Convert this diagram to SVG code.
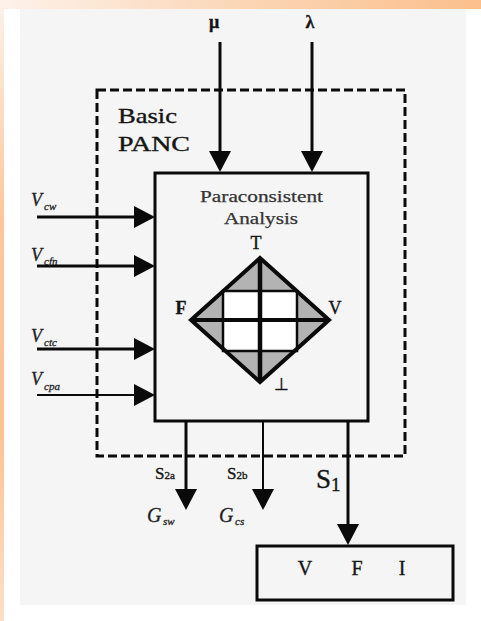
<svg xmlns="http://www.w3.org/2000/svg" width="481" height="621" viewBox="0 0 481 621">
<defs>
<linearGradient id="gTop" x1="0" y1="0" x2="1" y2="0">
<stop offset="0" stop-color="#fdf2ea"/>
<stop offset="0.5" stop-color="#fbd6b6"/>
<stop offset="1" stop-color="#fbbf8c"/>
</linearGradient>
<linearGradient id="gLeft" x1="0" y1="0" x2="0" y2="1">
<stop offset="0" stop-color="#fdf2ea"/>
<stop offset="0.35" stop-color="#fcc79a"/>
<stop offset="0.7" stop-color="#fcc395"/>
<stop offset="1" stop-color="#fde0c8"/>
</linearGradient>
<marker id="ah" viewBox="0 0 21 22" markerWidth="21" markerHeight="22" refX="13" refY="11" markerUnits="userSpaceOnUse" orient="auto">
<path d="M0,0 L21,11 L0,22 Z" fill="#0a0a0a"/>
</marker>
<style>
.t{font-family:"Liberation Serif","Times New Roman",serif;fill:#151515;stroke:#151515;stroke-width:0.35}
.it{font-family:"Liberation Serif","Times New Roman",serif;font-style:italic;fill:#222;stroke:#222;stroke-width:0.3}
.w{stroke:#0a0a0a;fill:none;stroke-width:3}
.thin{stroke:#0a0a0a;fill:none;stroke-width:2}
.box{fill:#f5f5f5;stroke:#0a0a0a;stroke-width:3}
</style>
</defs>
<rect x="0" y="0" width="481" height="621" fill="#ffffff"/>
<rect x="0" y="0" width="481" height="9" fill="url(#gTop)"/>
<rect x="0" y="0" width="4" height="621" fill="url(#gLeft)"/>
<rect x="20" y="9" width="446" height="596" fill="#f5f5f5"/>

<g id="basic-panc">
<rect x="97" y="90" width="308" height="366" fill="none" stroke="#0a0a0a" stroke-width="3" stroke-dasharray="9,4"/>
<text class="t" x="118" y="123" font-size="21" textLength="59" lengthAdjust="spacingAndGlyphs">Basic</text>
<text class="t" x="118" y="151" font-size="21" textLength="72" lengthAdjust="spacingAndGlyphs">PANC</text>
</g>

<g id="paraconsistent-analysis">
<rect class="box" x="155" y="173" width="213" height="248"/>
<text class="t" x="200" y="202" font-size="17" textLength="123" lengthAdjust="spacingAndGlyphs" style="fill:#333;stroke:#333;stroke-width:0.25">Paraconsistent</text>
<text class="t" x="224" y="224" font-size="17" textLength="74" lengthAdjust="spacingAndGlyphs" style="fill:#333;stroke:#333;stroke-width:0.25">Analysis</text>
<polygon points="260,258 329,320 260,382 191,320" fill="#b3b3b3"/>
<rect x="223" y="291" width="74" height="60" fill="#ffffff" stroke="#0a0a0a" stroke-width="2.5"/>
<line x1="260" y1="258" x2="260" y2="382" stroke="#0a0a0a" stroke-width="4.5"/>
<line x1="191" y1="320" x2="329" y2="320" stroke="#0a0a0a" stroke-width="4"/>
<polygon points="260,258 329,320 260,382 191,320" fill="none" stroke="#0a0a0a" stroke-width="4"/>
<text class="t" x="256" y="249" font-size="18" text-anchor="middle">T</text>
<text class="t" x="181" y="314" font-size="18" text-anchor="middle" font-weight="bold">F</text>
<text class="t" x="335" y="314" font-size="18" text-anchor="middle">V</text>
<text class="t" x="281" y="390" font-size="17" text-anchor="middle">⊥</text>
</g>

<g id="vfi">
<rect x="257" y="546" width="196" height="54" fill="#f5f5f5" stroke="#0a0a0a" stroke-width="3"/>
<text class="t" x="305" y="575" font-size="20" text-anchor="middle">V</text>
<text class="t" x="357" y="575" font-size="20" text-anchor="middle">F</text>
<text class="t" x="402" y="575" font-size="20" text-anchor="middle">I</text>
</g>

<g id="connectors">
<line class="w" x1="220" y1="42" x2="220" y2="164" marker-end="url(#ah)"/>
<line class="w" x1="312" y1="42" x2="312" y2="164" marker-end="url(#ah)"/>
<line class="w" x1="37" y1="217" x2="147" y2="217" marker-end="url(#ah)"/>
<line class="w" x1="37" y1="266" x2="147" y2="266" marker-end="url(#ah)"/>
<line class="w" x1="37" y1="349" x2="147" y2="349" marker-end="url(#ah)"/>
<line class="thin" x1="37" y1="395" x2="147" y2="395" marker-end="url(#ah)"/>
<line class="w" x1="186" y1="421" x2="186" y2="502" marker-end="url(#ah)"/>
<line class="thin" x1="263" y1="421" x2="263" y2="502" marker-end="url(#ah)"/>
<line class="w" x1="348" y1="421" x2="348" y2="537" marker-end="url(#ah)"/>
</g>

<g id="labels">
<text class="t" x="214" y="28" font-size="18" text-anchor="middle" font-weight="bold">μ</text>
<text class="t" x="310" y="28" font-size="18" text-anchor="middle" font-weight="bold">λ</text>
<text class="it" x="31" y="206" font-size="18">V<tspan x="44" y="210" font-size="11">cw</tspan></text>
<text class="it" x="31" y="261" font-size="18">V<tspan x="44" y="265" font-size="11">cfn</tspan></text>
<text class="it" x="31" y="342" font-size="18">V<tspan x="44" y="346" font-size="11">ctc</tspan></text>
<text class="it" x="31" y="385" font-size="18">V<tspan x="44" y="390" font-size="11">cpa</tspan></text>
<text class="t" x="155" y="479" font-size="17">S<tspan font-size="11">2a</tspan></text>
<text class="t" x="227" y="479" font-size="17">S<tspan font-size="11">2b</tspan></text>
<text class="t" x="316" y="488" font-size="27">S<tspan font-size="19" dy="3">1</tspan></text>
<text class="it" x="147" y="522" font-size="20">G<tspan x="163" y="525" font-size="11">sw</tspan></text>
<text class="it" x="219" y="522" font-size="20">G<tspan x="235" y="525" font-size="11">cs</tspan></text>
</g>
</svg>
